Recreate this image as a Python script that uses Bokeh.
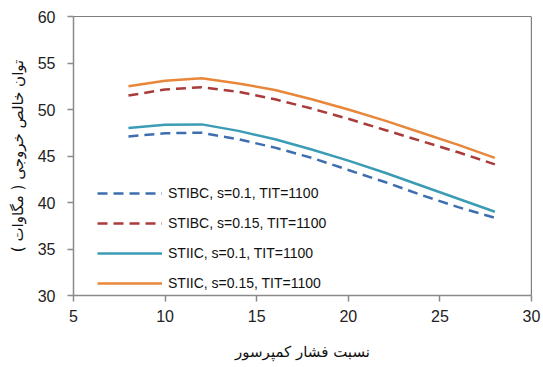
from bokeh.plotting import figure
from bokeh.models import Span, Legend, LegendItem, FixedTicker
from bokeh.embed import file_html
from bokeh.resources import INLINE

# Data
pressure_ratio = [8, 10, 12, 14, 16, 18, 20, 22, 24, 26, 28]
stibc_s01 = [47.1, 47.45, 47.5, 46.8, 45.9, 44.8, 43.5, 42.2, 40.8, 39.5, 38.35]
stibc_s015 = [51.5, 52.15, 52.4, 51.9, 51.1, 50.1, 49.0, 47.8, 46.6, 45.4, 44.1]
stiic_s01 = [48.0, 48.35, 48.4, 47.7, 46.8, 45.7, 44.5, 43.2, 41.8, 40.4, 39.0]
stiic_s015 = [52.5, 53.1, 53.35, 52.8, 52.1, 51.1, 50.0, 48.8, 47.5, 46.2, 44.8]

series_names = ["STIBC, s=0.1, TIT=1100", "STIBC, s=0.15, TIT=1100",
                "STIIC, s=0.1, TIT=1100", "STIIC, s=0.15, TIT=1100"]
x_ticks = [5, 10, 15, 20, 25, 30]
y_ticks = [30, 35, 40, 45, 50, 55, 60]
x_title = "نسبت فشار کمپرسور"
y_title = "توان خالص خروجی ( مگاوات )"

p = figure(frame_width=458, frame_height=279, min_border_left=73, min_border_right=12,
           min_border_top=16, min_border_bottom=72, x_range=(5, 30), y_range=(30, 60),
           output_backend="svg", toolbar_location=None, background_fill_color="white",
           border_fill_color="white")
p.outline_line_color = None
p.xgrid.visible = False
p.ygrid.visible = False

styles = [
    (stibc_s01, "#3F6EB0", "10 6"),
    (stibc_s015, "#AA3B3B", "10 6"),
    (stiic_s01, "#3A9CB5", "solid"),
    (stiic_s015, "#E8873A", "solid"),
]
renderers = []
for ys, color, dash in styles:
    r = p.line(pressure_ratio, ys, line_color=color, line_width=2.5, line_dash=dash)
    renderers.append(r)

# top and right frame edges
p.add_layout(Span(location=60, dimension="width", line_color="black", line_width=1.2))
p.add_layout(Span(location=30, dimension="height", line_color="black", line_width=1.2))

for ax in (p.xaxis[0], p.yaxis[0]):
    ax.axis_line_color = "#8a8a8a"
    ax.axis_line_width = 1.5
    ax.major_tick_line_color = "#8a8a8a"
    ax.major_tick_line_width = 1.5
    ax.major_tick_out = 6
    ax.major_tick_in = 0
    ax.minor_tick_line_color = None
    ax.major_label_text_font = "Liberation Sans"
    ax.major_label_text_font_size = "16px"
    ax.major_label_text_color = "#222222"
    ax.axis_label_text_font = "DejaVu Sans"
    ax.axis_label_text_font_style = "normal"
    ax.axis_label_text_color = "#111111"

p.xaxis.axis_label_text_font_size = "15px"
p.yaxis.axis_label_text_font_size = "15px"
p.xaxis.ticker = FixedTicker(ticks=x_ticks)
p.yaxis.ticker = FixedTicker(ticks=y_ticks)
p.xaxis.major_label_standoff = 8
p.yaxis.major_label_standoff = 12
p.xaxis.axis_label = x_title
p.yaxis.axis_label = y_title
p.xaxis.axis_label_standoff = 18
p.yaxis.axis_label_standoff = 8

legend = Legend(items=[LegendItem(label=n, renderers=[r]) for n, r in zip(series_names, renderers)],
                location=(24, 2), orientation="vertical")
legend.border_line_color = None
legend.background_fill_alpha = 0
legend.padding = 0
legend.margin = 0
legend.spacing = 10
legend.glyph_width = 65
legend.glyph_height = 20
legend.label_height = 20
legend.label_standoff = 6
legend.label_text_font = "Liberation Sans"
legend.label_text_font_size = "14px"
legend.label_text_color = "#111111"
p.add_layout(legend)

open("out.html", "w").write(file_html(p, INLINE))
